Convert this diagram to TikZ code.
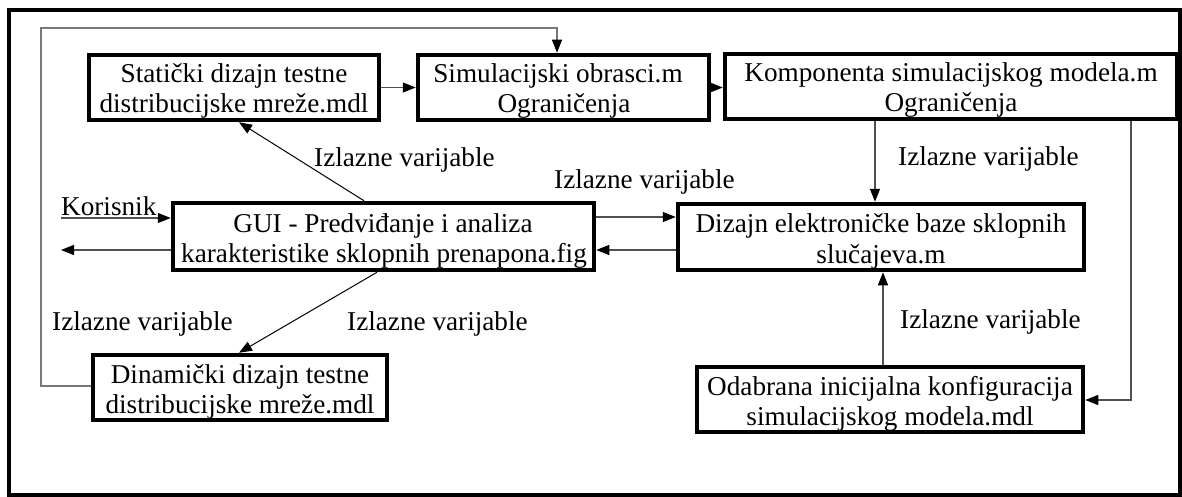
\documentclass[tikz,border=0pt]{standalone}
\usepackage{fontspec}
\setmainfont{Liberation Serif}
\usetikzlibrary{arrows.meta}
\definecolor{connc}{RGB}{80,80,80}
\definecolor{fbc}{RGB}{120,120,120}
\begin{document}
\begin{tikzpicture}[x=1pt,y=-1pt,
  box/.style={draw,line width=4.5pt,inner sep=0pt,minimum height=65pt},
  txt/.style={inner sep=0pt,font=\fontsize{27.2}{30}\selectfont},
  conn/.style={draw=connc,line width=1.3pt,-{Triangle[length=13pt,width=10pt,black]}},
  fb/.style={draw=fbc,line width=1.3pt,-{Triangle[length=13pt,width=10pt,black]}}
]
\useasboundingbox (0,0) rectangle (1182,497);
\draw[line width=4pt] (8.5,10.5) rectangle (1180,495);

% text lines
\node[txt,anchor=base] (stat1) at (234,83) {Statički dizajn testne};
\node[txt,anchor=base] (stat2) at (234,113) {distribucijske mreže.mdl};
\node[txt,anchor=base] (sim1) at (558,83) {Simulacijski obrasci.m};
\node[txt,anchor=base] (sim2) at (564,113) {Ograničenja};
\node[txt,anchor=base] (komp1) at (951,82) {Komponenta simulacijskog modela.m};
\node[txt,anchor=base] (komp2) at (951,112) {Ograničenja};
\node[txt,anchor=base] (gui1) at (383,232) {GUI - Predviđanje i analiza};
\node[txt,anchor=base] (gui2) at (384,262) {karakteristike sklopnih prenapona.fig};
\node[txt,anchor=base] (diz1) at (881,232) {Dizajn elektroničke baze sklopnih};
\node[txt,anchor=base] (diz2) at (881,263) {slučajeva.m};
\node[txt,anchor=base] (din1) at (240,383) {Dinamički dizajn testne};
\node[txt,anchor=base] (din2) at (240,413) {distribucijske mreže.mdl};
\node[txt,anchor=base] (oda1) at (890,395) {Odabrana inicijalna konfiguracija};
\node[txt,anchor=base] (oda2) at (890,425) {simulacijskog modela.mdl};

% boxes
\node[box,minimum width=290pt] (stat) at (234,87.5) {};
\node[box,minimum width=291pt] (sim) at (563.5,87.5) {};
\node[box,minimum width=452pt] (komp) at (951,86.5) {};
\node[box,minimum width=421pt,minimum height=67pt] (gui) at (383.5,236.5) {};
\node[box,minimum width=406pt,minimum height=66pt] (diz) at (881,237) {};
\node[box,minimum width=294pt] (din) at (240,387.5) {};
\node[box,minimum width=386pt] (oda) at (890,399.5) {};

% labels
\node[txt,anchor=base west] (kor) at (61,215) {Korisnik};
\node[txt,anchor=base west] (l1) at (314,167) {Izlazne varijable};
\node[txt,anchor=base west] (l2) at (554,188) {Izlazne varijable};
\node[txt,anchor=base west] (l3) at (898,165) {Izlazne varijable};
\node[txt,anchor=base west] (l4) at (52,330) {Izlazne varijable};
\node[txt,anchor=base west] (l5) at (347,330) {Izlazne varijable};
\node[txt,anchor=base west] (l6) at (900,328) {Izlazne varijable};

% helper coordinates
\coordinate (kin) at (61,218);
\coordinate (kout) at (61,250);
\coordinate (a1) at ([yshift=19.5pt]gui.east);
\coordinate (a2) at ([yshift=-13.5pt]gui.east);
\coordinate (a3) at (875,0);
\coordinate (a4) at (883,0);
\coordinate (a5) at (1131,400);
\coordinate (f1) at (41,386);
\coordinate (f2) at (41,28);
\coordinate (f3) at (557,28);

% connectors
\draw[conn] (stat.east) -- (stat.east -| sim.west);
\draw[conn] (sim.east) -- (sim.east -| komp.west);
\draw[fb] (f1 -| din.west) -- (f1) -- (f2) -- (f3) -- (f3 |- sim.north);
\draw[conn,draw=black,line width=1pt] ([xshift=-19.5pt]gui.north) -- ([xshift=5pt]stat.south);
\draw[conn,draw=black,line width=1pt] ([xshift=-6.5pt]gui.south) -- ([xshift=-1pt]din.north);
\draw[conn] (kin) -- (kin -| gui.west);
\draw[conn] (gui.west |- kout) -- (kout);
\draw[conn] (a1) -- (a1 -| diz.west);
\draw[conn] (a2 -| diz.west) -- (a2);
\draw[conn] (a3 |- komp.south) -- (a3 |- diz.north);
\draw[conn] (a4 |- oda.north) -- (a4 |- diz.south);
\draw[conn] (a5 |- komp.south) -- (a5) -- (a5 -| oda.east);
\end{tikzpicture}
\end{document}
